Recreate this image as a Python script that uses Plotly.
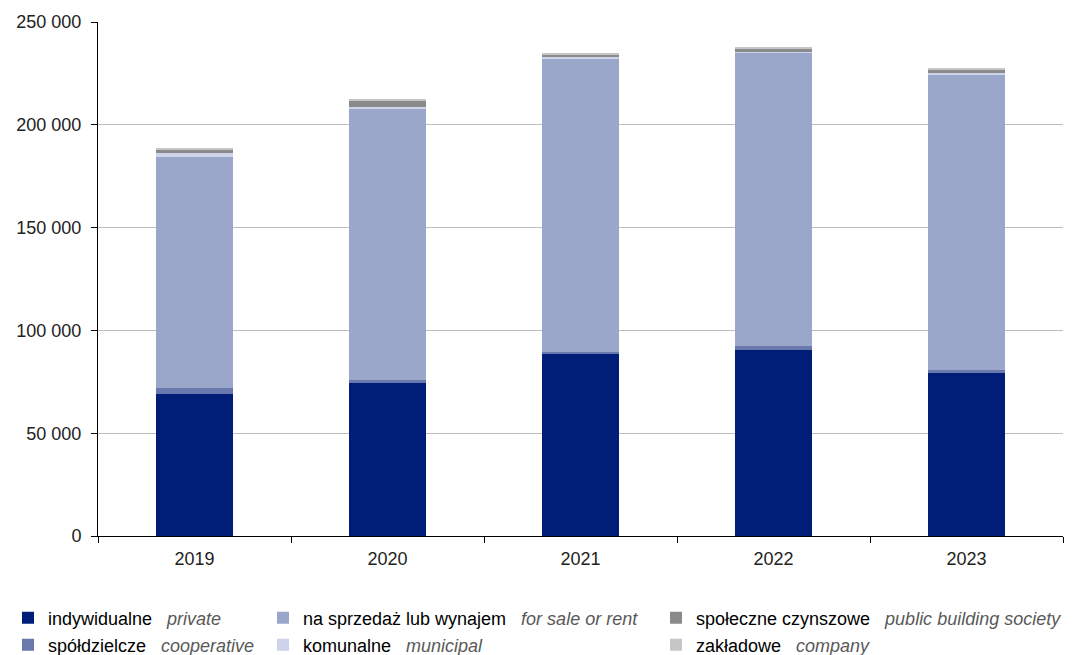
import plotly.graph_objects as go

years = ["2019", "2020", "2021", "2022", "2023"]
indywidualne = [69000, 74300, 88400, 90300, 79300]
spoldzielcze = [3200, 1400, 1000, 2300, 1400]
sprzedaz = [112300, 132000, 142900, 142500, 144000]
komunalne = [1700, 1100, 700, 500, 700]
spoleczne = [2000, 2900, 1400, 1600, 1700]
zakladowe = [700, 600, 500, 500, 500]

series = [
    ("indywidualne", "private", indywidualne, "#001E78"),
    ("spółdzielcze", "cooperative", spoldzielcze, "#6A79AD"),
    ("na sprzedaż lub wynajem", "for sale or rent", sprzedaz, "#9AA7CA"),
    ("komunalne", "municipal", komunalne, "#CDD3EA"),
    ("społeczne czynszowe", "public building society", spoleczne, "#8A8A8A"),
    ("zakładowe", "company", zakladowe, "#C6C6C6"),
]

# page body has an 8px margin: figure coordinates are page coordinates minus 8
OFF = 8
legend_pos = {
    "indywidualne": ("legend", 8, 618),
    "spółdzielcze": ("legend2", 8, 645),
    "na sprzedaż lub wynajem": ("legend3", 263, 618),
    "komunalne": ("legend4", 263, 645),
    "społeczne czynszowe": ("legend5", 656, 618),
    "zakładowe": ("legend6", 656, 645),
}

fig = go.Figure()
for pl, en, vals, col in series:
    lg = legend_pos[pl][0]
    fig.add_trace(go.Bar(
        x=years, y=vals, width=0.4,
        name=f"{pl}\u00a0\u00a0 <span style='color:#595959'><i>{en}</i></span>",
        marker=dict(color=col, line=dict(width=0)),
        legend=lg,
    ))

W, H = 1074 - OFF, 655 - OFF
layout_legends = {}
for pl, (lg, px, py) in legend_pos.items():
    layout_legends[lg] = dict(
        xref="container", yref="container",
        x=(px - OFF) / W, y=1 - (py - OFF) / H, xanchor="left", yanchor="middle",
        font=dict(family="Liberation Sans, Arial", size=18, color="#000000"),
        bgcolor="rgba(0,0,0,0)", borderwidth=0, itemwidth=30,
    )

fig.update_layout(
    width=W, height=H,
    barmode="stack",
    separators=", ",
    margin=dict(l=98 - OFF, r=11, t=22 - OFF, b=119, autoexpand=False),
    plot_bgcolor="white", paper_bgcolor="white",
    font=dict(family="Liberation Sans, Arial", size=18, color="#222222"),
    showlegend=True,
    **layout_legends,
)
fig.update_xaxes(
    type="category", showline=True, linecolor="#000000", linewidth=1,
    ticks="outside", tickson="boundaries", ticklen=6, tickcolor="#000000",
    ticklabelstandoff=6, showgrid=False, tickangle=0, automargin=False,
)
fig.update_yaxes(
    range=[0, 250000], tickvals=[0, 50000, 100000, 150000, 200000, 250000],
    tickformat=",d", showline=True, linecolor="#000000", linewidth=1,
    ticks="outside", ticklen=6, tickcolor="#000000", ticklabelstandoff=6,
    showgrid=True, gridcolor="#BDBDBD", gridwidth=1, zeroline=False,
    automargin=False,
)
fig.write_html("out.html")
